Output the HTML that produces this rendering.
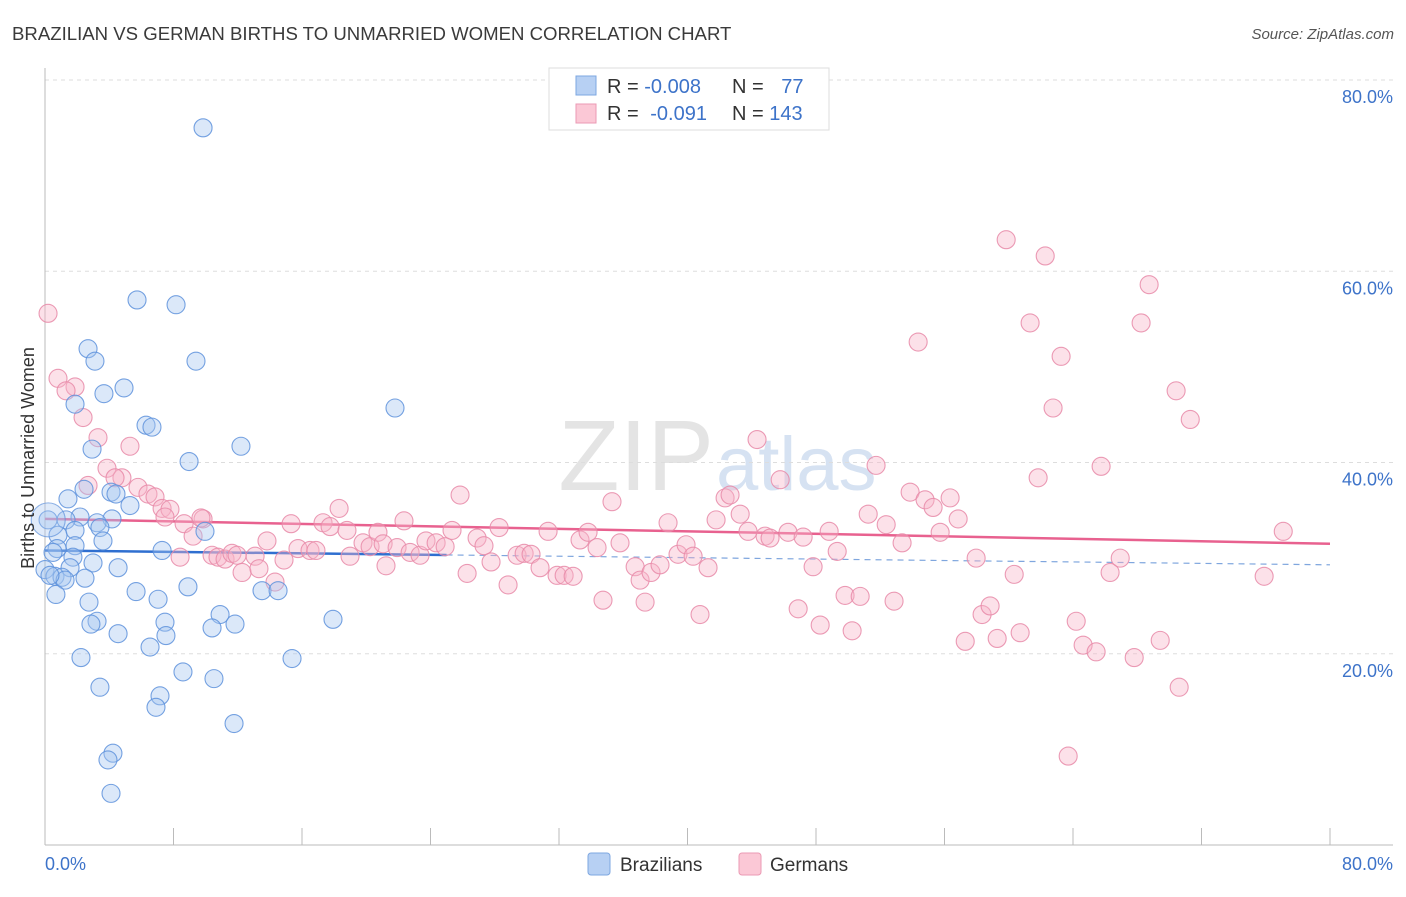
<!DOCTYPE html>
<html><head><meta charset="utf-8"><style>
body{margin:0;background:#fff;font-family:"Liberation Sans",sans-serif;}
svg text{font-family:"Liberation Sans",sans-serif;}
</style></head><body>
<svg id="chart" width="1406" height="892" xmlns="http://www.w3.org/2000/svg">
<text x="12" y="40" font-size="18.6" fill="#3a3a3a">BRAZILIAN VS GERMAN BIRTHS TO UNMARRIED WOMEN CORRELATION CHART</text>
<text x="1394" y="39" font-size="15" font-style="italic" fill="#555" text-anchor="end">Source: ZipAtlas.com</text>
<text x="714" y="490" font-size="100" fill="#e4e4e4" text-anchor="end" font-family="Liberation Serif">ZIP</text>
<text x="716" y="490" font-size="76" fill="#d6e2f2">atlas</text>
<g id="grid"></g><g id="axes"></g><g id="trend"></g><g id="pts"></g>
<text transform="translate(34,458) rotate(-90)" font-size="18" fill="#333" text-anchor="middle">Births to Unmarried Women</text>
<g>
<rect x="549" y="68" width="280" height="62" fill="#fff" stroke="#ddd"/>
<rect x="576" y="76" width="20" height="19" fill="#b7d0f3" stroke="#7ea7e0"/>
<rect x="576" y="104" width="20" height="19" fill="#fbc8d6" stroke="#eb9ab4"/>
<text x="607" y="93" font-size="20" fill="#333">R = <tspan fill="#3d73c9">-0.008</tspan></text>
<text x="732" y="93" font-size="20" fill="#333">N = <tspan fill="#3d73c9" dx="12">77</tspan></text>
<text x="607" y="120" font-size="20" fill="#333">R = <tspan fill="#3d73c9" dx="6">-0.091</tspan></text>
<text x="732" y="120" font-size="20" fill="#333">N = <tspan fill="#3d73c9">143</tspan></text>
</g>
<g>
<rect x="588" y="853" width="22" height="22" rx="3" fill="#b7d0f3" stroke="#7ea7e0"/>
<text x="620" y="871" font-size="19" fill="#333">Brazilians</text>
<rect x="739" y="853" width="22" height="22" rx="3" fill="#fbc8d6" stroke="#eb9ab4"/>
<text x="770" y="871" font-size="19" fill="#333">Germans</text>
</g>
</svg>
<script>
const yTicks=[20,40,60,80];
const yTickLabels=["20.0%","40.0%","60.0%","80.0%"];
const xTickValues=[0,8,16,24,32,40,48,56,64,72,80];
const xEndLabels=["0.0%","80.0%"];
const blueX=[9.84,5.73,8.16,2.68,3.11,9.40,4.92,3.67,1.87,21.79,6.29,6.66,2.93,12.2,8.97,2.43,4.11,4.42,1.43,5.29,2.18,4.17,9.96,1.31,3.24,0.19,0.81,3.42,1.87,3.61,1.87,0.75,7.29,1.74,0.5,2.99,4.55,1.56,0,0.62,1.06,1.25,0.31,2.49,0.68,8.9,2.74,7.04,5.67,13.51,14.51,17.93,3.24,2.86,7.47,10.9,11.83,10.4,4.55,7.53,6.54,2.24,15.38,8.59,3.42,10.52,7.16,6.91,11.77,4.23,3.92,4.11];
const blueY=[75.0,57.0,56.5,51.9,50.6,50.6,47.8,47.2,46.1,45.7,43.9,43.7,41.4,41.7,40.1,37.2,36.9,36.7,36.2,35.5,34.3,34.1,32.8,34.0,33.7,34.0,32.4,33.2,32.9,31.8,31.3,31.0,30.8,30.1,30.6,29.5,29.0,29.0,28.8,28.1,28.0,27.7,28.2,27.9,26.2,27.0,25.4,25.7,26.5,26.6,26.6,23.6,23.4,23.1,23.3,24.1,23.1,22.7,22.1,21.9,20.7,19.6,19.5,18.1,16.5,17.4,15.6,14.4,12.7,9.6,8.9,5.4];
const pinkX=[0.19,0.81,1.87,1.31,2.37,3.3,5.29,2.68,3.86,4.79,4.36,5.79,6.41,6.85,7.29,7.78,8.66,7.47,9.84,9.22,9.71,8.41,10.4,10.77,11.21,11.64,11.96,12.27,13.08,13.32,13.82,14.32,15.32,14.88,15.75,16.5,16.87,17.31,17.75,18.31,18.8,18.99,19.8,20.24,20.73,21.05,21.23,21.92,22.35,22.73,23.35,23.72,24.35,24.91,25.34,25.84,26.28,26.9,27.33,27.77,28.27,28.83,29.39,29.83,30.26,30.82,31.32,31.88,32.32,32.88,33.31,33.81,34.37,34.74,35.3,35.8,36.74,37.05,37.36,37.73,38.29,38.79,39.41,39.91,40.35,40.78,41.28,41.78,42.34,42.65,43.28,43.77,44.33,44.83,45.14,45.77,46.26,46.89,47.2,47.82,48.26,48.82,49.32,49.81,50.25,50.75,51.25,51.74,52.37,52.86,53.36,53.86,54.36,54.79,55.29,55.73,56.35,56.85,57.29,57.97,58.34,58.84,59.28,59.84,60.34,60.71,61.33,61.83,62.27,62.76,63.26,63.7,64.2,64.63,65.44,65.75,66.31,66.94,67.81,68.24,68.74,69.43,70.42,70.61,71.3,75.9,77.09];
const pinkY=[55.6,48.8,47.9,47.5,44.7,42.6,41.7,37.6,39.4,38.4,38.4,37.4,36.7,36.4,35.2,35.1,33.6,34.3,34.1,32.3,34.2,30.1,30.3,30.1,29.9,30.5,30.3,28.5,30.2,28.9,31.8,27.5,33.6,29.8,31.0,30.8,30.8,33.7,33.3,35.2,32.9,30.2,31.6,31.2,32.7,31.5,29.2,31.1,33.9,30.6,30.3,31.8,31.6,31.2,32.9,36.6,28.4,32.1,31.3,29.6,33.2,27.2,30.3,30.5,30.4,29.0,32.8,28.2,28.2,28.1,31.9,32.7,31.1,25.6,35.9,31.6,29.1,27.7,25.4,28.5,29.3,33.7,30.4,31.4,30.2,24.1,29.0,34.0,36.3,36.6,34.6,32.8,42.4,32.3,32.1,38.2,32.7,24.7,32.2,29.1,23.0,32.8,30.7,26.1,22.4,26.0,34.6,39.7,33.5,25.5,31.6,36.9,52.6,36.1,35.3,32.7,36.3,34.1,21.3,30.0,24.1,25.0,21.6,63.3,28.3,22.2,54.6,38.4,61.6,45.7,51.1,9.3,23.4,20.9,20.2,39.6,28.5,30.0,19.6,54.6,58.6,21.4,47.5,16.5,44.5,28.1,32.8];
const blueTrend=[30.8,29.3];
const pinkTrend=[34.1,31.5];
const NS="http://www.w3.org/2000/svg";
const X0=45,X1=1330,Y0=845,Y80=80;
const sx=v=>X0+(X1-X0)*v/80;
const sy=v=>Y0-(Y0-Y80)*v/80;
function mk(tag,attrs,parent){const e=document.createElementNS(NS,tag);for(const k in attrs)e.setAttribute(k,attrs[k]);parent.appendChild(e);return e;}
const grid=document.getElementById('grid'),axes=document.getElementById('axes'),trend=document.getElementById('trend'),pts=document.getElementById('pts');
yTicks.forEach((t,i)=>{
  const l=mk('line',{x1:X0,x2:1393,y1:sy(t),y2:sy(t),stroke:'#ddd','stroke-dasharray':'4,4'},grid);
  
  
  const tx=mk('text',{x:1393,y:sy(t)+23,'font-size':18,fill:'#3d73c9','text-anchor':'end'},grid);
  tx.textContent=yTickLabels[i];
  
  
});
const ya=mk('line',{x1:X0,x2:X0,y1:68,y2:Y0,stroke:'#bbb'},axes);


const xa=mk('line',{x1:X0,x2:1393,y1:Y0,y2:Y0,stroke:'#bbb'},axes);


xTickValues.forEach(v=>{
  const t=mk('line',{x1:sx(v),x2:sx(v),y1:Y0,y2:Y0-17,stroke:'#bbb'},axes);
  
  
});
const xl0=mk('text',{x:45,y:870,'font-size':18,fill:'#3d73c9'},axes);xl0.textContent=xEndLabels[0];


const xl1=mk('text',{x:1393,y:870,'font-size':18,fill:'#3d73c9','text-anchor':'end'},axes);xl1.textContent=xEndLabels[1];


function drawPts(xs,ys,fill,stroke,name){xs.forEach((x,i)=>{
  const c=mk('circle',{cx:sx(x),cy:sy(ys[i]),r:9,fill:fill,'fill-opacity':0.4,stroke:stroke,'stroke-width':1.1,'stroke-opacity':0.85},pts);
  
  
});}
drawPts(pinkX,pinkY,'#f7b3c8','#e88aa8','german-point');
drawPts(blueX,blueY,'#a6c6f0','#5e92dc','brazilian-point');
const bigc=mk('circle',{cx:sx(0.2),cy:sy(34.0),r:17,fill:'#a6c6f0','fill-opacity':0.35,stroke:'#5e92dc','stroke-width':1.1,'stroke-opacity':0.7},pts);


const bxs=25;
const bySplit=blueTrend[0]+(blueTrend[1]-blueTrend[0])*bxs/80;
const b1=mk('line',{x1:sx(0),y1:sy(blueTrend[0]),x2:sx(bxs),y2:sy(bySplit),stroke:'#2f6fd0','stroke-width':2.5},trend);


const b2=mk('line',{x1:sx(bxs),y1:sy(bySplit),x2:sx(80),y2:sy(blueTrend[1]),stroke:'#7fa6de','stroke-width':1.2,'stroke-dasharray':'6,5'},trend);


const p1=mk('line',{x1:sx(0),y1:sy(pinkTrend[0]),x2:sx(80),y2:sy(pinkTrend[1]),stroke:'#e8618f','stroke-width':2.5},trend);


</script>
</body></html>
